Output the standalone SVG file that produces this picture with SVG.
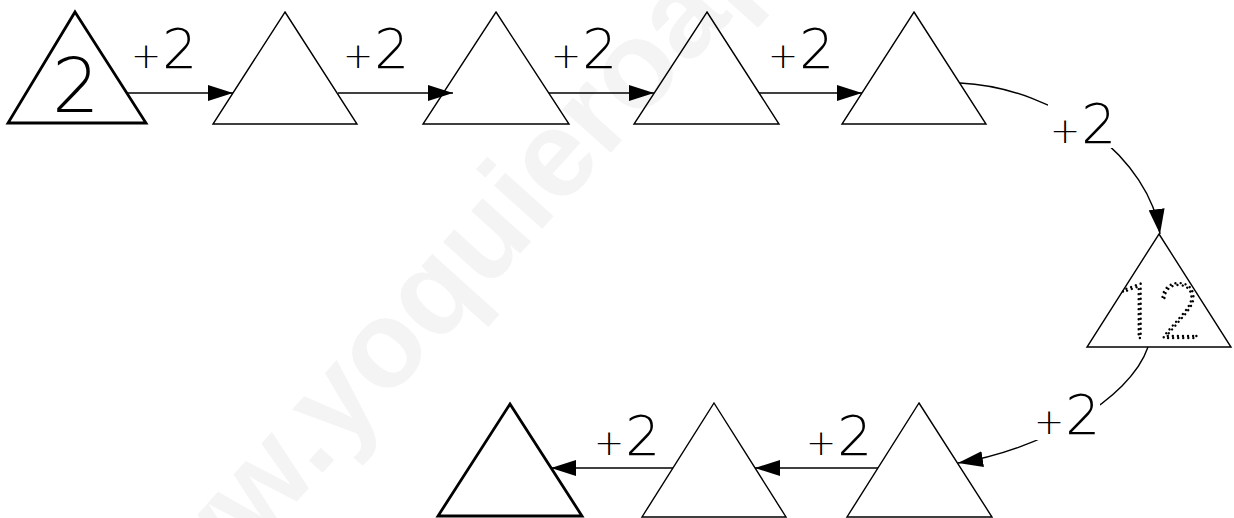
<svg xmlns="http://www.w3.org/2000/svg" width="1234" height="518" viewBox="0 0 1234 518">
<style>
.tri{fill:none;stroke:#000;stroke-width:1.4;stroke-linejoin:miter}
.thick{stroke-width:2.8}
.con{fill:none;stroke:#000;stroke-width:1.4}
.lbl{font-family:"DejaVu Sans",sans-serif;font-weight:200;font-size:55px;fill:#000}
.pl{font-size:36px}
.num{font-family:"DejaVu Sans",sans-serif;font-weight:200;font-size:75px;fill:#000}
.dot{font-family:Roboto,"DejaVu Sans",sans-serif;font-weight:100;font-size:76px;fill:none;stroke:#000;stroke-width:2.4;stroke-dasharray:0.01 5;stroke-linecap:round}
.wm{font-family:"Liberation Sans",Arial,sans-serif;font-weight:bold;font-size:123px;fill:#f4f4f4}
</style>
<defs>
<marker id="ah" viewBox="0 0 25 16" refX="25" refY="8" markerWidth="25" markerHeight="16" markerUnits="userSpaceOnUse" orient="auto">
<path d="M0,0 L25,8 L0,16 z" fill="#000"/>
</marker>
</defs>
<rect width="1234" height="518" fill="#fff"/>
<text class="wm" transform="translate(128,689) rotate(-48)">www.yoquieroaprobar.es</text>
<g id="connectors">
<path class="con" marker-end="url(#ah)" d="M127,93 H233"/>
<path class="con" marker-end="url(#ah)" d="M338,93 H453"/>
<path class="con" marker-end="url(#ah)" d="M549,93 H654"/>
<path class="con" marker-end="url(#ah)" d="M759,93 H862"/>
<path class="con" marker-end="url(#ah)" d="M960,83 C1060,88 1150,160 1160,234"/>
<path class="con" marker-end="url(#ah)" d="M1148,347 C1130,400 1040,450 958,463"/>
<path class="con" marker-end="url(#ah)" d="M878,468 H755"/>
<path class="con" marker-end="url(#ah)" d="M673,468 H551"/>
</g>
<g id="labels">
<text class="lbl" x="131" y="68"><tspan class="pl">+</tspan><tspan dx="1">2</tspan></text>
<text class="lbl" x="343" y="68"><tspan class="pl">+</tspan><tspan dx="1">2</tspan></text>
<text class="lbl" x="551" y="68"><tspan class="pl">+</tspan><tspan dx="1">2</tspan></text>
<text class="lbl" x="768" y="68"><tspan class="pl">+</tspan><tspan dx="1">2</tspan></text>
<rect x="1048" y="98" width="70" height="50" fill="#fff"/>
<text class="lbl" x="1050" y="143"><tspan class="pl">+</tspan><tspan dx="1">2</tspan></text>
<rect x="1030" y="390" width="70" height="50" fill="#fff"/>
<text class="lbl" x="1034" y="434"><tspan class="pl">+</tspan><tspan dx="1">2</tspan></text>
<text class="lbl" x="806" y="455"><tspan class="pl">+</tspan><tspan dx="1">2</tspan></text>
<text class="lbl" x="594" y="455"><tspan class="pl">+</tspan><tspan dx="1">2</tspan></text>
</g>
<g id="n1"><polygon class="tri thick" points="75,12 146,123 8,123"/><text class="num" x="52" y="112">2</text></g>
<g id="n2"><polygon class="tri" points="285,12 357,124 213,124"/></g>
<g id="n3"><polygon class="tri" points="496,12 569,124 423,124"/></g>
<g id="n4"><polygon class="tri" points="707,12 779,124 634,124"/></g>
<g id="n5"><polygon class="tri" points="914,12 986,124 842,124"/></g>
<g id="n6"><polygon class="tri" points="1159,234 1231,347 1087,347"/><text class="dot" x="1116" y="338" textLength="84" lengthAdjust="spacingAndGlyphs">12</text></g>
<g id="n7"><polygon class="tri" points="919,403 992,517 847,517"/></g>
<g id="n8"><polygon class="tri" points="714,403 786,517 642,517"/></g>
<g id="n9"><polygon class="tri thick" points="510,404 582,516 438,516"/></g>
</svg>
